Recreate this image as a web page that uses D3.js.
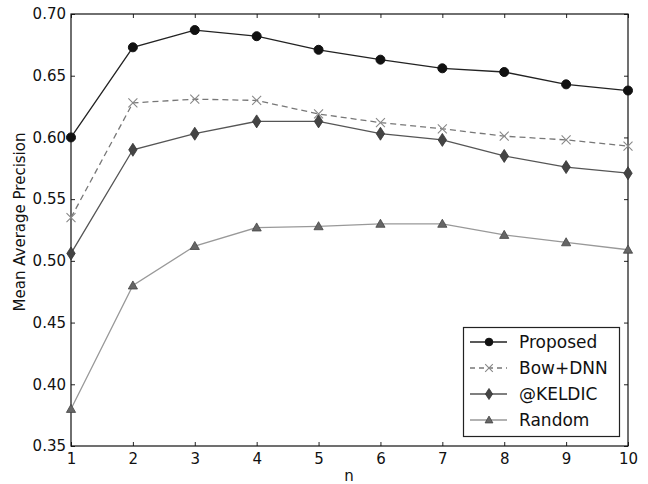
<!DOCTYPE html>
<html lang="en">
<head>
  <meta charset="UTF-8">
  <title>Mean Average Precision</title>
  <script src="https://d3js.org/d3.v7.min.js"></script>
  <style>
    body { margin: 0; background: #fff; font-family: "DejaVu Sans", sans-serif; }
    svg { display: block; }
    .tick text { font-family: "DejaVu Sans", sans-serif; font-size: 15px; fill: #111; }
  </style>
</head>
<body>
  <svg id="chart" width="648" height="484"></svg>
  <script>
    const nValues = [1, 2, 3, 4, 5, 6, 7, 8, 9, 10];
    const proposed = [0.600, 0.673, 0.687, 0.682, 0.671, 0.663, 0.656, 0.653, 0.643, 0.638];
    const bowDnn   = [0.535, 0.628, 0.631, 0.630, 0.619, 0.612, 0.607, 0.601, 0.598, 0.593];
    const keldic   = [0.506, 0.590, 0.603, 0.613, 0.613, 0.603, 0.598, 0.585, 0.576, 0.571];
    const random   = [0.380, 0.480, 0.512, 0.527, 0.528, 0.530, 0.530, 0.521, 0.515, 0.509];
    const yTicks = [0.35, 0.40, 0.45, 0.50, 0.55, 0.60, 0.65, 0.70];

    const series = [
      { name: "Proposed", values: proposed, line: "#222", dash: null, marker: "circle", fill: "#111", stroke: "#111" },
      { name: "Bow+DNN", values: bowDnn, line: "#777", dash: "6,4", marker: "x", fill: "none", stroke: "#888" },
      { name: "@KELDIC", values: keldic, line: "#555", dash: null, marker: "diamond", fill: "#444", stroke: "#333" },
      { name: "Random", values: random, line: "#999", dash: null, marker: "triangle", fill: "#666", stroke: "#444" }
    ];

    const svg = d3.select("#chart");
    const margin = { top: 14, right: 20, bottom: 38, left: 71 };
    const width = 628 - margin.left;
    const height = 446 - margin.top;

    const x = d3.scaleLinear().domain([1, 10]).range([0, width]);
    const y = d3.scaleLinear().domain([0.35, 0.70]).range([height, 0]);

    const g = svg.append("g").attr("transform", `translate(${margin.left},${margin.top})`);

    // axes with inward ticks (bottom/left labelled, top/right bare)
    g.append("g").attr("transform", `translate(0,${height})`)
      .call(d3.axisBottom(x).tickValues(nValues).tickFormat(d3.format("d")).tickSizeInner(-4).tickSizeOuter(0).tickPadding(7));
    g.append("g")
      .call(d3.axisLeft(y).tickValues(yTicks).tickFormat(d3.format(".2f")).tickSizeInner(-4).tickSizeOuter(0).tickPadding(5));
    g.append("g")
      .call(d3.axisTop(x).tickValues(nValues).tickFormat("").tickSizeInner(-4).tickSizeOuter(0));
    g.append("g").attr("transform", `translate(${width},0)`)
      .call(d3.axisRight(y).tickValues(yTicks).tickFormat("").tickSizeInner(-4).tickSizeOuter(0));
    g.selectAll(".domain").remove();
    g.selectAll(".tick line").attr("stroke", "#222");

    g.append("rect").attr("width", width).attr("height", height)
      .attr("fill", "none").attr("stroke", "#111").attr("stroke-width", 1.2);

    const line = d3.line().x((d, i) => x(nValues[i])).y(d => y(d));

    function drawMarker(sel, s, cx, cy, scale) {
      const k = scale || 1;
      if (s.marker === "circle") {
        sel.append("circle").attr("cx", cx).attr("cy", cy).attr("r", 4.5 * k)
          .attr("fill", s.fill).attr("stroke", s.stroke);
      } else if (s.marker === "x") {
        const r = 4.5 * k;
        sel.append("path").attr("d", `M${cx - r},${cy - r}L${cx + r},${cy + r}M${cx - r},${cy + r}L${cx + r},${cy - r}`)
          .attr("stroke", s.stroke).attr("stroke-width", 1.1).attr("fill", "none");
      } else if (s.marker === "diamond") {
        const w = 4.2 * k, h = 6.5 * k;
        sel.append("path").attr("d", `M${cx},${cy - h}L${cx + w},${cy}L${cx},${cy + h}L${cx - w},${cy}Z`)
          .attr("fill", s.fill).attr("stroke", s.stroke).attr("stroke-width", 0.8);
      } else {
        const r = 4.6 * k;
        sel.append("path").attr("d", `M${cx},${cy - r}L${cx + r},${cy + r * 0.75}L${cx - r},${cy + r * 0.75}Z`)
          .attr("fill", s.fill).attr("stroke", s.stroke).attr("stroke-width", 0.8);
      }
    }

    const plot = g.append("g");
    series.forEach(s => {
      plot.append("path").datum(s.values)
        .attr("d", line).attr("fill", "none")
        .attr("stroke", s.line).attr("stroke-width", 1.3)
        .attr("stroke-dasharray", s.dash);
      const mg = plot.append("g");
      s.values.forEach((v, i) => drawMarker(mg, s, x(nValues[i]), y(v)));
    });

    // legend
    const lg = svg.append("g");
    lg.append("rect").attr("x", 463.5).attr("y", 327.5).attr("width", 156).attr("height", 109)
      .attr("fill", "#fff").attr("stroke", "#222").attr("stroke-width", 1.2);
    series.forEach((s, i) => {
      const cy = 342 + i * 26;
      lg.append("line").attr("x1", 470).attr("x2", 507).attr("y1", cy).attr("y2", cy)
        .attr("stroke", s.line).attr("stroke-width", 1.3).attr("stroke-dasharray", s.dash ? "5,4" : null);
      drawMarker(lg, s, 489, cy, 0.85);
      lg.append("text").attr("x", 519).attr("y", cy).attr("dy", "0.35em")
        .style("font-size", "17px").attr("fill", "#111").text(s.name);
    });

    // axis labels
    svg.append("text")
      .attr("x", 349).attr("y", 481)
      .attr("text-anchor", "middle").style("font-size", "15px").attr("fill", "#111")
      .text("n");
    svg.append("text")
      .attr("transform", "translate(25,222) rotate(-90)")
      .attr("text-anchor", "middle").style("font-size", "15px").attr("fill", "#111")
      .text("Mean Average Precision");
  </script>
</body>
</html>
